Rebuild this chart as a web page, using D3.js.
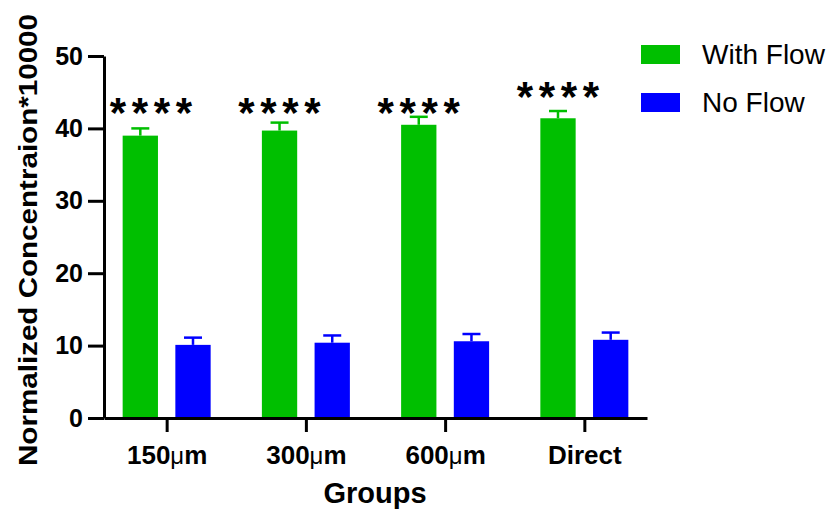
<!DOCTYPE html>
<html>
<head>
<meta charset="utf-8">
<script src="https://cdn.jsdelivr.net/npm/d3@7"></script>
<style>
  html, body { margin: 0; padding: 0; background: #ffffff; }
  svg { display: block; }
  text { font-family: "Liberation Sans", Arial, sans-serif; }
</style>
</head>
<body>
<script>
// ---- data ----
const categories = ["150μm", "300μm", "600μm", "Direct"];
const seriesNames = ["With Flow", "No Flow"];
const withFlow = [39.0, 39.7, 40.5, 41.4];
const withFlowErr = [1.0, 1.1, 1.1, 1.0];
const noFlow = [10.1, 10.4, 10.6, 10.8];
const noFlowErr = [1.0, 1.0, 1.0, 1.0];
const significance = ["****", "****", "****", "****"];
const significanceLevel = [43.4, 43.4, 43.4, 45.6];
const yTicks = [0, 10, 20, 30, 40, 50];
const yTitle = "Normalized Concentraion*10000";
const xTitle = "Groups";

const colors = { "With Flow": "#00bf00", "No Flow": "#0000ff" };

const W = 835, H = 512;
const svg = d3.select("body").append("svg").attr("width", W).attr("height", H);

const y = d3.scaleLinear().domain([0, 50]).range([418, 56]);
const x0 = d3.scalePoint().domain(categories).range([104, 647]).padding(0.45);
const x1 = d3.scaleBand().domain(seriesNames).range([-44, 44]).paddingInner(0.33);

const table = categories.map((c, i) => ({
  cat: c,
  vals: [
    { s: "With Flow", v: withFlow[i], e: withFlowErr[i] },
    { s: "No Flow", v: noFlow[i], e: noFlowErr[i] }
  ]
}));

// bars
const g = svg.selectAll("g.grp").data(table).join("g")
  .attr("class", "grp")
  .attr("transform", d => `translate(${x0(d.cat)},0)`);

g.selectAll("rect").data(d => d.vals).join("rect")
  .attr("x", d => x1(d.s))
  .attr("width", x1.bandwidth())
  .attr("y", d => y(d.v))
  .attr("height", d => y(0) - y(d.v))
  .attr("fill", d => colors[d.s]);

// error bars (upper only)
const eb = g.selectAll("g.err").data(d => d.vals).join("g").attr("class", "err");
eb.append("line")
  .attr("x1", d => x1(d.s) + x1.bandwidth() / 2)
  .attr("x2", d => x1(d.s) + x1.bandwidth() / 2)
  .attr("y1", d => y(d.v))
  .attr("y2", d => y(d.v + d.e))
  .attr("stroke", d => colors[d.s]).attr("stroke-width", 2.5);
eb.append("line")
  .attr("x1", d => x1(d.s) + x1.bandwidth() / 2 - 9)
  .attr("x2", d => x1(d.s) + x1.bandwidth() / 2 + 9)
  .attr("y1", d => y(d.v + d.e))
  .attr("y2", d => y(d.v + d.e))
  .attr("stroke", d => colors[d.s]).attr("stroke-width", 2.5);

// axes
const yAxis = svg.append("g").attr("transform", `translate(104,0)`)
  .call(d3.axisLeft(y).tickValues(yTicks).tickSize(16).tickSizeOuter(0).tickPadding(5));
yAxis.select(".domain").attr("stroke", "#000").attr("stroke-width", 3);
yAxis.selectAll(".tick line").attr("stroke", "#000").attr("stroke-width", 3);
yAxis.selectAll(".tick text")
  .attr("font-family", "Liberation Sans, Arial, sans-serif")
  .attr("font-size", 25).attr("font-weight", "bold").attr("fill", "#000");

const xAxis = svg.append("g").attr("transform", `translate(0,418)`)
  .call(d3.axisBottom(x0).tickSize(14).tickSizeOuter(0));
xAxis.select(".domain").attr("stroke", "#000").attr("stroke-width", 3);
xAxis.selectAll(".tick line").attr("stroke", "#000").attr("stroke-width", 3);
xAxis.selectAll(".tick text")
  .attr("y", 46).attr("dy", 0)
  .attr("font-family", "Liberation Sans, Arial, sans-serif")
  .attr("font-size", 26).attr("font-weight", "bold").attr("fill", "#000")
  .each(function(d) {
    const t = d3.select(this);
    t.text(null);
    const parts = d.split("μ");
    t.append("tspan").text(parts[0]);
    if (parts.length > 1) {
      t.append("tspan").attr("font-weight", "normal").attr("font-size", 24).text("μ");
      t.append("tspan").text(parts[1]);
    }
  });

// significance stars
table.forEach((d, i) => {
  let cx = x0(d.cat) + x1("With Flow") + x1.bandwidth() / 2;
  const step = 22;
  const n = significance[i].length;
  const half = (n - 1) / 2 * step + 8;
  cx = Math.max(cx, 104 + half + 6);
  const cy = y(significanceLevel[i]);
  significance[i].split("").forEach((ch, k) => {
    svg.append("text")
      .attr("x", cx + (k - (n - 1) / 2) * step)
      .attr("y", cy + 23)
      .attr("text-anchor", "middle")
      .attr("font-size", 42).attr("font-weight", "bold").attr("fill", "#000")
      .text(ch);
  });
});

// titles
svg.append("text")
  .attr("x", 375).attr("y", 503)
  .attr("text-anchor", "middle")
  .attr("font-size", 29).attr("font-weight", "bold").attr("fill", "#000")
  .text(xTitle);

svg.append("text")
  .attr("transform", "translate(37,240) rotate(-90)")
  .attr("text-anchor", "middle")
  .attr("font-size", 26).attr("font-weight", "bold").attr("fill", "#000")
  .attr("textLength", 452).attr("lengthAdjust", "spacingAndGlyphs")
  .text(yTitle);

// legend
const leg = svg.append("g");
seriesNames.forEach((s, i) => {
  leg.append("rect").attr("x", 641).attr("y", 45 + i * 48).attr("width", 39).attr("height", 19).attr("fill", colors[s]);
  leg.append("text").attr("x", 702).attr("y", 64 + i * 48)
    .attr("font-size", 28).attr("fill", "#000").text(s);
});
</script>
</body>
</html>
